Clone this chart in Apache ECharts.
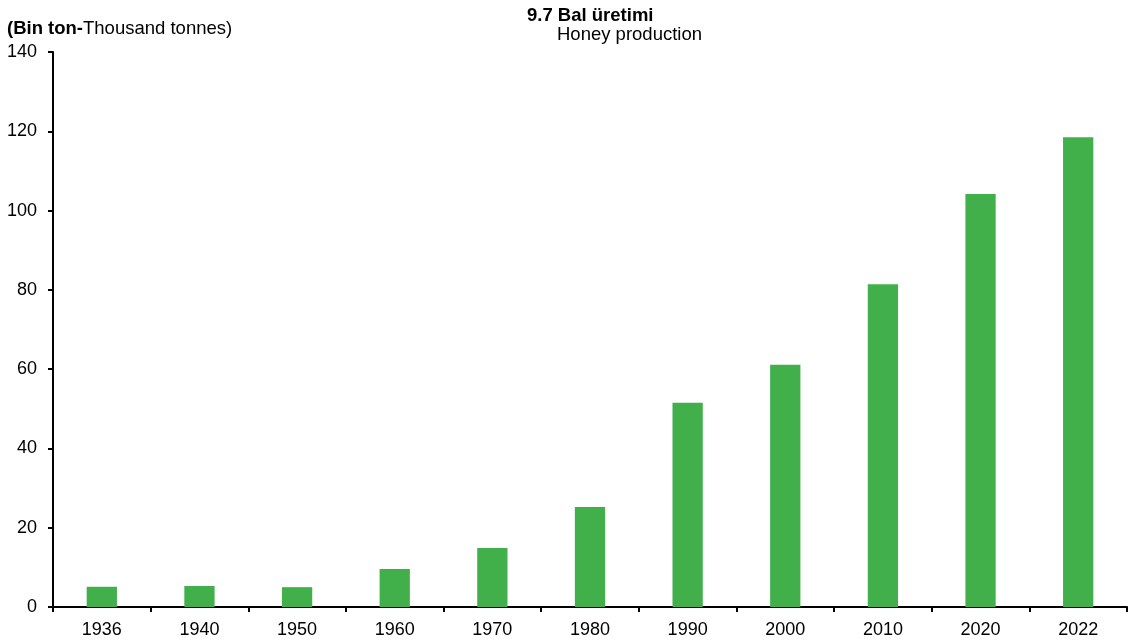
<!DOCTYPE html>
<html>
<head>
<meta charset="utf-8">
<script src="https://cdn.jsdelivr.net/npm/echarts@6/dist/echarts.min.js"></script>
<style>
html,body{margin:0;padding:0;background:#fff;}
#chart{width:1134px;height:644px;}
</style>
</head>
<body>
<div id="chart"></div>
<script>
const years = ['1936','1940','1950','1960','1970','1980','1990','2000','2010','2020','2022'];
const honey = [5.1, 5.3, 5.0, 9.6, 14.9, 25.2, 51.5, 61.1, 81.4, 104.2, 118.5];
const titleTr = '9.7 Bal üretimi';
const titleEn = 'Honey production';
const unitBold = '(Bin ton-';
const unitText = 'Thousand tonnes)';

const FONT = '"Liberation Sans", Arial, sans-serif';
const chart = echarts.init(document.getElementById('chart'), null, {renderer: 'canvas'});
chart.setOption({
  animation: false,
  backgroundColor: '#ffffff',
  title: [
    {text: titleTr, left: 527, top: 6, padding: 0,
     textStyle: {fontFamily: FONT, fontSize: 18.5, fontWeight: 'bold', color: '#000'}},
    {text: titleEn, left: 557, top: 25, padding: 0,
     textStyle: {fontFamily: FONT, fontSize: 18.5, fontWeight: 'normal', color: '#000'}},
    {text: '{b|' + unitBold + '}{n|' + unitText + '}', left: 7, top: 19, padding: 0,
     textStyle: {rich: {
       b: {fontFamily: FONT, fontSize: 18.5, fontWeight: 'bold', color: '#000'},
       n: {fontFamily: FONT, fontSize: 18.5, fontWeight: 'normal', color: '#000'}
     }}}
  ],
  grid: {left: 53, right: 7, top: 52, bottom: 37, containLabel: false},
  xAxis: {
    type: 'category',
    data: years,
    boundaryGap: true,
    axisLine: {lineStyle: {color: '#000', width: 2}},
    axisTick: {show: true, length: 5, lineStyle: {color: '#000', width: 2}, alignWithLabel: false},
    axisLabel: {fontFamily: FONT, fontSize: 18, color: '#000', margin: 14}
  },
  yAxis: {
    type: 'value',
    min: 0, max: 140, interval: 20,
    splitLine: {show: false},
    axisLine: {show: true, lineStyle: {color: '#000', width: 2}},
    axisTick: {show: true, length: 5, lineStyle: {color: '#000', width: 2}},
    axisLabel: {fontFamily: FONT, fontSize: 18, color: '#000', margin: 16}
  },
  series: [{
    type: 'bar',
    data: honey,
    barWidth: '31%',
    itemStyle: {color: '#41B04B'}
  }]
});
</script>
</body>
</html>
